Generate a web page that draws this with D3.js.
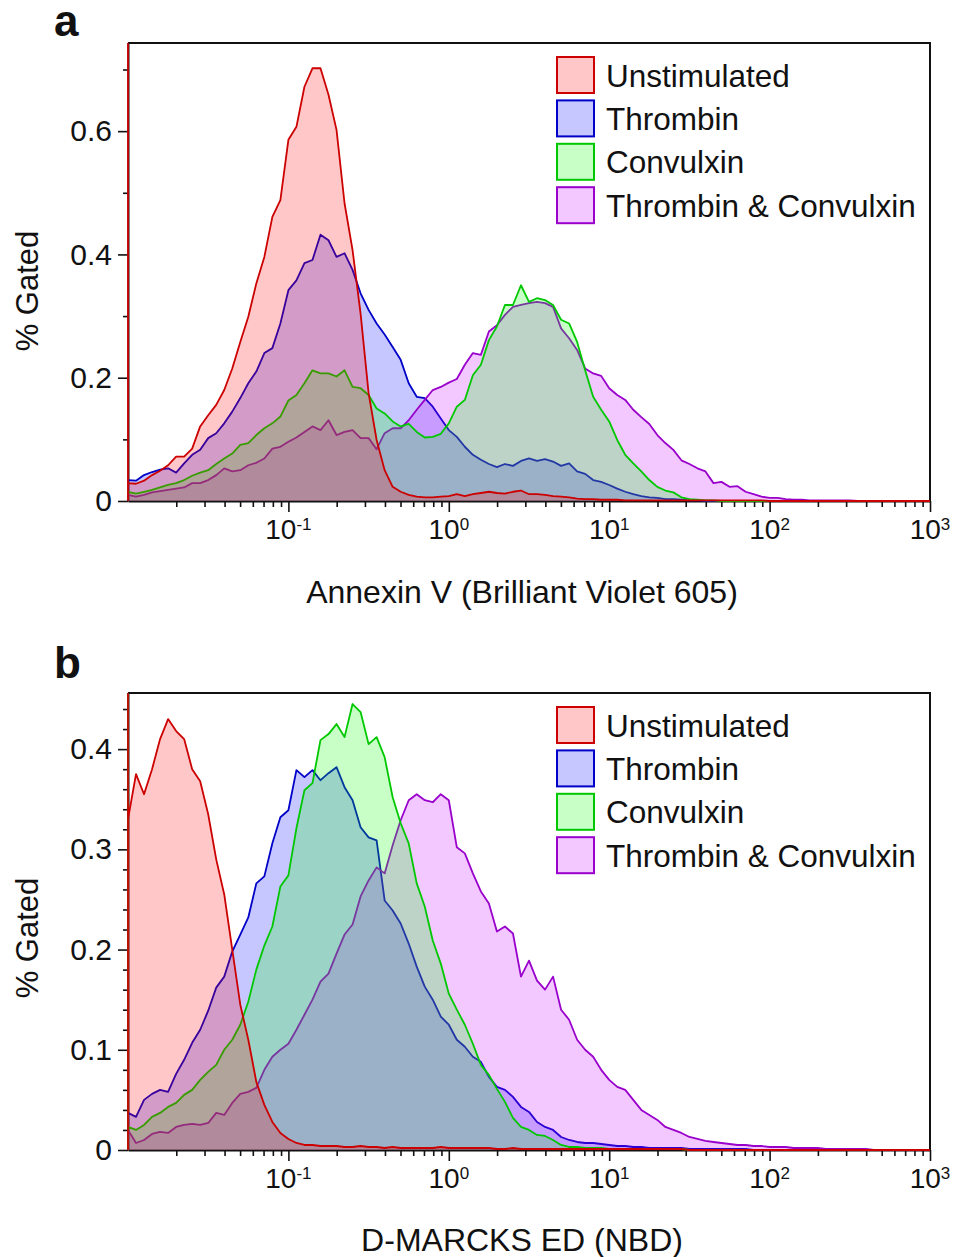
<!DOCTYPE html>
<html>
<head>
<meta charset="utf-8">
<script src="https://cdn.jsdelivr.net/npm/d3@7"></script>
<style>
  body { margin: 0; background: #fff; }
  text { font-family: "Liberation Sans", Arial, Helvetica, sans-serif; fill: #111; }
</style>
</head>
<body>
<svg id="chart" width="956" height="1257"></svg>
<script>
// ---- series definitions -------------------------------------------------
const seriesNames = ["Unstimulated", "Thrombin", "Convulxin", "Thrombin & Convulxin"];
const lineColors  = ["#cc0000", "#0000c8", "#00c800", "#9900cc"];
const fillColors  = ["#ff0000", "#0000ff", "#00ff00", "#c800ff"];
// back-to-front drawing order (indices into seriesNames)
const drawOrder = [1, 3, 2, 0];

// histogram channels: channel i sits at log10(x) = channelStart + i * channelStep
const channelStart = -2, channelStep = 0.05;
const decadeExponents = [-2, -1, 0, 1, 2, 3];
const labelledExponents = [-1, 0, 1, 2, 3];

// ---- panel a : Annexin V (Brilliant Violet 605) -------------------------
const annexinUnstim = [
  0.029,0.028,0.033,0.042,0.049,0.058,0.072,0.072,0.085,0.121,
  0.139,0.156,0.180,0.215,0.258,0.299,0.353,0.396,0.461,0.488,
  0.586,0.607,0.672,0.702,0.702,0.659,0.602,0.483,0.407,0.304,
  0.175,0.099,0.050,0.023,0.015,0.010,0.007,0.006,0.006,0.007,
  0.008,0.011,0.008,0.011,0.013,0.015,0.013,0.012,0.015,0.017,
  0.011,0.011,0.010,0.008,0.007,0.006,0.004,0.003,0.003,0.002,
  0.002,0.002,0.001,0.001,0.001,0.001,0.001,0.001,0.001,0.001,
  0.001,0.001,0.001,0.001,0.001,0.001,0.001,0.001,0.001,0.001,
  0,0,0,0,0,0,0,0,0,0,
  0,0,0,0,0,0,0,0,0,0,
  0];
const annexinThrombin = [
  0.034,0.033,0.042,0.047,0.051,0.053,0.046,0.061,0.075,0.083,
  0.102,0.110,0.126,0.145,0.167,0.191,0.210,0.240,0.248,0.288,
  0.342,0.358,0.386,0.391,0.432,0.423,0.396,0.402,0.375,0.337,
  0.310,0.288,0.270,0.250,0.229,0.191,0.169,0.167,0.153,0.134,
  0.115,0.104,0.088,0.075,0.067,0.060,0.055,0.060,0.057,0.065,
  0.069,0.065,0.068,0.064,0.057,0.061,0.048,0.044,0.034,0.031,
  0.026,0.020,0.015,0.011,0.008,0.006,0.005,0.003,0.003,0.002,
  0.001,0.001,0,0,0,0,0,0,0,0,
  0,0,0,0,0,0,0,0,0,0,
  0,0,0,0,0,0,0,0,0,0,
  0];
const annexinConvulxin = [
  0.015,0.012,0.015,0.018,0.022,0.026,0.029,0.034,0.041,0.046,
  0.050,0.060,0.069,0.077,0.091,0.094,0.107,0.118,0.126,0.137,
  0.163,0.172,0.191,0.212,0.207,0.207,0.202,0.212,0.185,0.183,
  0.172,0.150,0.142,0.129,0.121,0.125,0.112,0.103,0.104,0.109,
  0.126,0.153,0.164,0.204,0.221,0.261,0.283,0.318,0.318,0.350,
  0.323,0.329,0.326,0.318,0.294,0.288,0.258,0.212,0.169,0.148,
  0.129,0.099,0.075,0.061,0.048,0.034,0.023,0.017,0.014,0.006,
  0.003,0.002,0.001,0.001,0,0,0,0,0,0,
  0,0,0,0,0,0,0,0,0,0,
  0,0,0,0,0,0,0,0,0,0,
  0];
const annexinBoth = [
  0.010,0.007,0.010,0.014,0.016,0.018,0.020,0.022,0.029,0.029,
  0.034,0.042,0.053,0.048,0.050,0.058,0.062,0.069,0.085,0.088,
  0.096,0.103,0.112,0.121,0.115,0.131,0.107,0.112,0.115,0.102,
  0.102,0.084,0.110,0.118,0.118,0.131,0.148,0.164,0.180,0.185,
  0.192,0.198,0.221,0.240,0.237,0.275,0.285,0.302,0.315,0.318,
  0.321,0.323,0.321,0.315,0.280,0.264,0.245,0.215,0.207,0.203,
  0.183,0.172,0.164,0.148,0.136,0.125,0.107,0.094,0.083,0.066,
  0.060,0.053,0.048,0.029,0.031,0.023,0.024,0.015,0.011,0.007,
  0.005,0.005,0.003,0.002,0.002,0.001,0.001,0.001,0.001,0.001,
  0.001,0,0,0,0,0,0,0,0,0,
  0];
// events piled up in the lowest channel (off scale)
const annexinPileup = [2, 0, 0, 0];

// ---- panel b : D-MARCKS ED (NBD) ----------------------------------------
const marcksUnstim = [
  0.330,0.375,0.355,0.380,0.410,0.430,0.418,0.410,0.380,0.368,
  0.335,0.290,0.255,0.200,0.145,0.110,0.068,0.045,0.028,0.017,
  0.011,0.007,0.005,0.005,0.004,0.004,0.004,0.003,0.003,0.004,
  0.003,0.003,0.002,0.003,0.002,0.002,0.002,0.002,0.002,0.003,
  0.002,0.002,0.002,0.002,0.002,0.002,0.001,0.001,0.002,0.001,
  0.001,0.001,0.001,0.001,0.001,0.001,0.001,0.001,0.001,0.001,
  0.001,0.001,0.001,0.001,0.001,0.001,0.001,0.001,0.001,0.001,
  0,0,0,0,0,0,0,0,0,0,
  0,0,0,0,0,0,0,0,0,0,
  0,0,0,0,0,0,0,0,0,0,
  0];
const marcksThrombin = [
  0.037,0.033,0.050,0.056,0.060,0.058,0.076,0.090,0.107,0.120,
  0.139,0.162,0.173,0.198,0.215,0.232,0.266,0.273,0.306,0.332,
  0.339,0.379,0.372,0.379,0.369,0.376,0.382,0.362,0.349,0.322,
  0.312,0.309,0.249,0.239,0.226,0.206,0.183,0.163,0.150,0.133,
  0.125,0.110,0.103,0.093,0.088,0.073,0.063,0.060,0.053,0.043,
  0.038,0.028,0.023,0.020,0.013,0.010,0.008,0.007,0.007,0.006,
  0.005,0.004,0.004,0.003,0.003,0.002,0.002,0.002,0.002,0.002,
  0.001,0.001,0.001,0.001,0.001,0.001,0.001,0.001,0,0,
  0,0,0,0,0,0,0,0,0,0,
  0,0,0,0,0,0,0,0,0,0,
  0];
const marcksConvulxin = [
  0.023,0.020,0.025,0.033,0.037,0.043,0.047,0.055,0.060,0.070,
  0.078,0.085,0.100,0.110,0.125,0.148,0.180,0.204,0.223,0.263,
  0.274,0.321,0.359,0.366,0.409,0.415,0.425,0.412,0.445,0.437,
  0.405,0.412,0.392,0.352,0.326,0.306,0.266,0.243,0.209,0.186,
  0.156,0.140,0.125,0.106,0.085,0.075,0.061,0.048,0.032,0.023,
  0.020,0.015,0.014,0.010,0.005,0.003,0.003,0.002,0.002,0.002,
  0.001,0.001,0.001,0.001,0.001,0.001,0.001,0.001,0.001,0.001,
  0,0,0,0,0,0,0,0,0,0,
  0,0,0,0,0,0,0,0,0,0,
  0,0,0,0,0,0,0,0,0,0,
  0];
const marcksBoth = [
  0.020,0.007,0.010,0.016,0.018,0.017,0.023,0.025,0.026,0.025,
  0.027,0.037,0.035,0.047,0.056,0.058,0.062,0.080,0.093,0.100,
  0.106,0.120,0.135,0.150,0.168,0.176,0.196,0.215,0.225,0.253,
  0.269,0.282,0.276,0.304,0.329,0.349,0.355,0.349,0.347,0.355,
  0.349,0.302,0.296,0.276,0.258,0.246,0.218,0.223,0.216,0.173,
  0.189,0.169,0.160,0.173,0.140,0.130,0.110,0.100,0.093,0.080,
  0.070,0.063,0.060,0.050,0.040,0.035,0.030,0.023,0.020,0.017,
  0.013,0.011,0.009,0.008,0.007,0.006,0.005,0.005,0.004,0.004,
  0.003,0.003,0.003,0.002,0.002,0.002,0.002,0.001,0.001,0.001,
  0.001,0.001,0.001,0,0,0,0,0,0,0,
  0];
const marcksPileup = [2, 0, 2, 0];

// ---- y-axis ticks ---------------------------------------------------------
const annexinYMax = 0.743;
const annexinYTicks = [0, 0.2, 0.4, 0.6];
const annexinYMinor = [0.1, 0.3, 0.5, 0.7];
const marcksYMax = 0.456;
const marcksYTicks = [0, 0.1, 0.2, 0.3, 0.4];
const marcksYMinor = [0.02, 0.04, 0.06, 0.08, 0.12, 0.14, 0.16, 0.18, 0.22, 0.24,
                      0.26, 0.28, 0.32, 0.34, 0.36, 0.38, 0.42, 0.44];

const panels = [
  { id: "a", letter: "a", letterY: 36, top: 43, bottom: 501,
    yMax: annexinYMax, yTicks: annexinYTicks, yMinor: annexinYMinor,
    series: [annexinUnstim, annexinThrombin, annexinConvulxin, annexinBoth],
    pileup: annexinPileup, yTitleY: 291,
    xTitle: "Annexin V (Brilliant Violet 605)", xTitleY: 603 },
  { id: "b", letter: "b", letterY: 678, top: 693, bottom: 1150,
    yMax: marcksYMax, yTicks: marcksYTicks, yMinor: marcksYMinor,
    series: [marcksUnstim, marcksThrombin, marcksConvulxin, marcksBoth],
    pileup: marcksPileup, yTitleY: 938,
    xTitle: "D-MARCKS ED (NBD)", xTitleY: 1251 }
];

// ---- drawing ---------------------------------------------------------------
const left = 128, right = 930;
const svg = d3.select("#chart");
const defs = svg.append("defs");
const x = d3.scaleLog().domain([1e-2, 1e3]).range([left, right]);
const channelX = i => Math.pow(10, channelStart + i * channelStep);

const minorX = [];
decadeExponents.slice(0, -1).forEach(e => {
  for (let m = 2; m <= 9; m++) minorX.push(m * Math.pow(10, e));
});

const yFormat = d => d === 0 ? "0" : d3.format(".1f")(d);

function styleAxis(g, size) {
  g.attr("font-family", null).attr("font-size", null);
  g.selectAll("line").attr("stroke", "#111").attr("stroke-width", 1.6);
  g.selectAll("path.domain").attr("stroke", "#111").attr("stroke-width", 2);
  g.selectAll("text").attr("font-size", size);
}

panels.forEach(p => {
  const y = d3.scaleLinear().domain([0, p.yMax]).range([p.bottom, p.top]);
  const g = svg.append("g");

  // frame: top and right edges
  g.append("path")
    .attr("d", `M${left},${p.top}H${right}V${p.bottom}`)
    .attr("fill", "none").attr("stroke", "#111").attr("stroke-width", 2);

  // x axis: decade ticks, minor ticks, superscript labels
  const xMajor = g.append("g").attr("transform", `translate(0,${p.bottom})`)
    .call(d3.axisBottom(x).tickValues(decadeExponents.slice(1).map(e => Math.pow(10, e)))
      .tickSize(11).tickSizeOuter(0).tickFormat(""));
  styleAxis(xMajor, 28);
  const xMinor = g.append("g").attr("transform", `translate(0,${p.bottom})`)
    .call(d3.axisBottom(x).tickValues(minorX).tickSize(6).tickSizeOuter(0).tickFormat(""));
  styleAxis(xMinor, 28);
  xMinor.select("path.domain").remove();

  labelledExponents.forEach(e => {
    const t = g.append("text")
      .attr("x", x(Math.pow(10, e)))
      .attr("y", p.bottom + 38)
      .attr("text-anchor", "middle")
      .attr("font-size", 28);
    t.append("tspan").text("10");
    t.append("tspan").attr("dy", -9).attr("font-size", 17).text(String(e));
  });

  // y axis
  const yMajor = g.append("g").attr("transform", `translate(${left},0)`)
    .call(d3.axisLeft(y).tickValues(p.yTicks).tickSize(10).tickPadding(6)
      .tickSizeOuter(0).tickFormat(yFormat));
  styleAxis(yMajor, 30);
  yMajor.selectAll("text").attr("fill", "#111");
  const yMinorAxis = g.append("g").attr("transform", `translate(${left},0)`)
    .call(d3.axisLeft(y).tickValues(p.yMinor).tickSize(5).tickSizeOuter(0).tickFormat(""));
  styleAxis(yMinorAxis, 30);
  yMinorAxis.select("path.domain").remove();

  // histograms
  const clipId = "plot-clip-" + p.id;
  defs.append("clipPath").attr("id", clipId).append("rect")
    .attr("x", left - 2).attr("y", p.top)
    .attr("width", right - left + 4).attr("height", p.bottom - p.top + 2);
  const plot = g.append("g").attr("clip-path", `url(#${clipId})`);

  const area = d3.area().x(d => x(d[0])).y0(y(0)).y1(d => y(d[1]));
  const line = d3.line().x(d => x(d[0])).y(d => y(d[1]));

  drawOrder.forEach(k => {
    const pts = p.series[k].map((v, i) => [channelX(i), v]);
    // the lowest channel's pile-up rises from the baseline along the left edge
    if (p.pileup[k] > 0) pts.unshift([channelX(0), 0], [channelX(0), p.pileup[k]]);
    plot.append("path").attr("d", area(pts))
      .attr("fill", fillColors[k]).attr("fill-opacity", 0.22).attr("stroke", "none");
    plot.append("path").attr("d", line(pts))
      .attr("fill", "none").attr("stroke", lineColors[k])
      .attr("stroke-width", 1.8).attr("stroke-linejoin", "round");
  });

  // legend
  const legend = g.append("g");
  seriesNames.forEach((name, k) => {
    const top = p.top + 14 + k * 43.4;
    legend.append("rect")
      .attr("x", 557).attr("y", top).attr("width", 37).attr("height", 36)
      .attr("fill", fillColors[k]).attr("fill-opacity", 0.22)
      .attr("stroke", lineColors[k]).attr("stroke-width", 2);
    legend.append("text")
      .attr("x", 606).attr("y", top + 29.5)
      .attr("font-size", 31.5).text(name);
  });

  // titles
  g.append("text")
    .attr("transform", `translate(38,${p.yTitleY}) rotate(-90)`)
    .attr("text-anchor", "middle").attr("font-size", 31).text("% Gated");
  g.append("text")
    .attr("x", 522).attr("y", p.xTitleY)
    .attr("text-anchor", "middle").attr("font-size", 32).text(p.xTitle);
  g.append("text")
    .attr("x", 54).attr("y", p.letterY)
    .attr("font-size", 44).attr("font-weight", "bold").attr("fill", "#222").text(p.letter);
});
</script>
</body>
</html>
